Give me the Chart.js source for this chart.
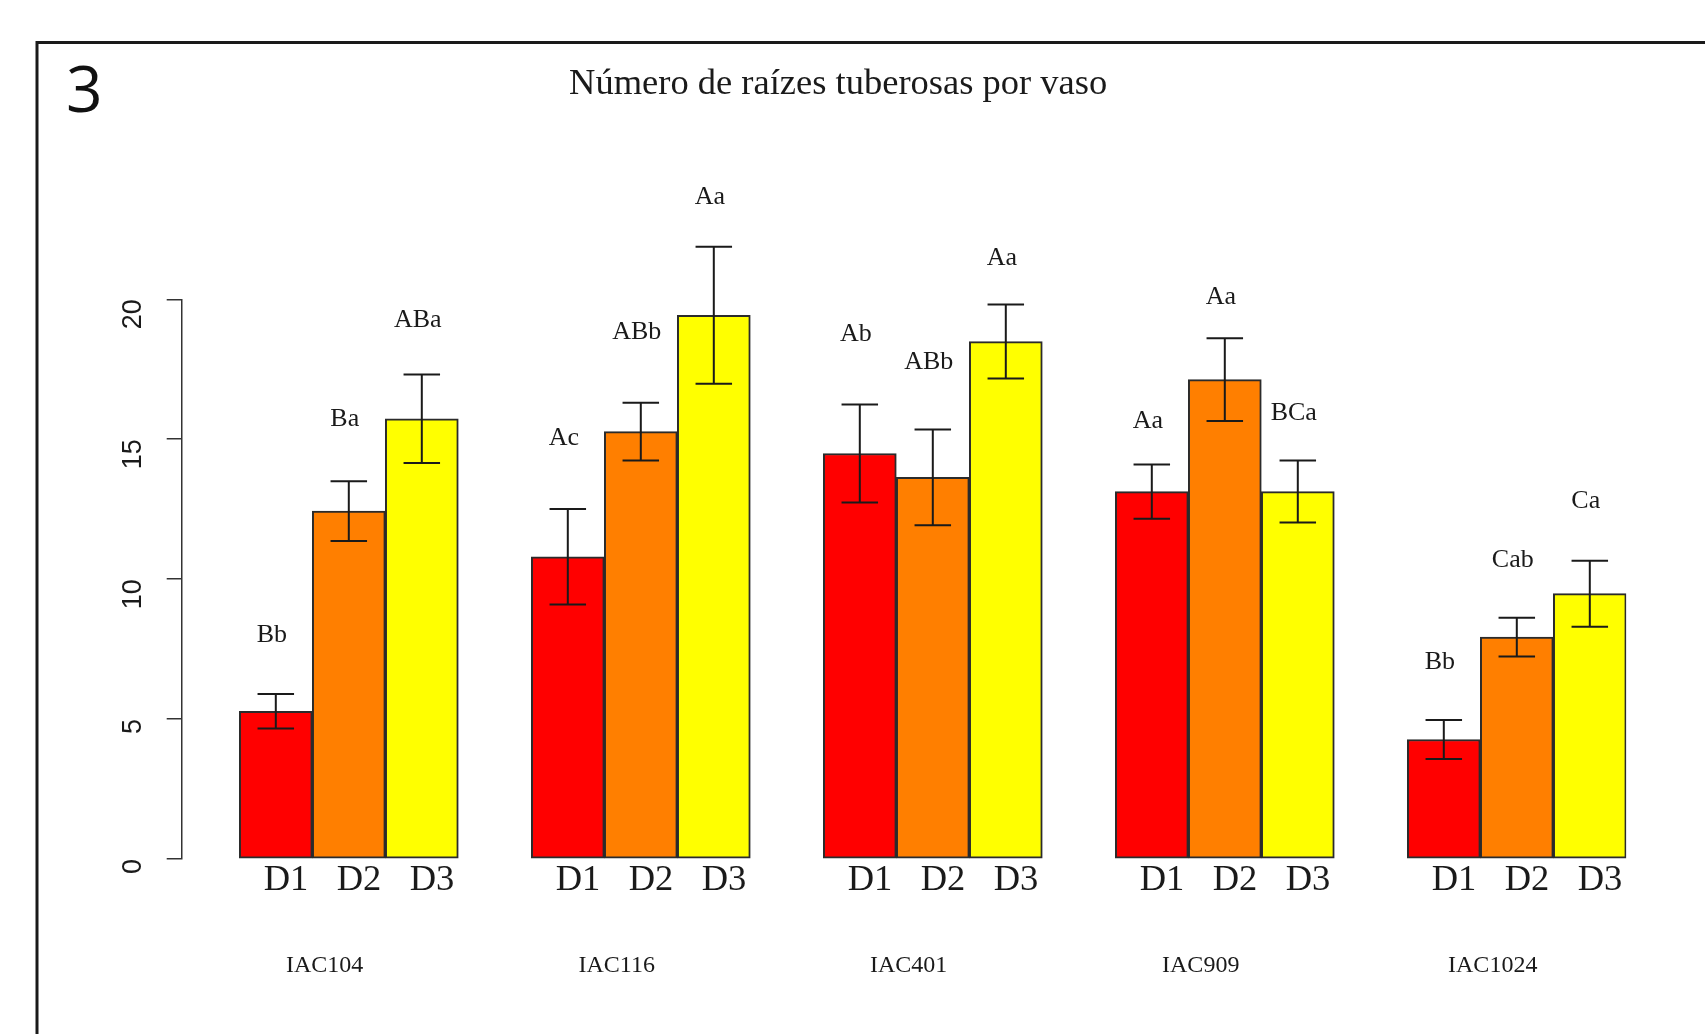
<!DOCTYPE html>
<html>
<head>
<meta charset="utf-8">
<title>Número de raízes tuberosas por vaso</title>
<script src="https://cdn.jsdelivr.net/npm/chart.js@4.4.0/dist/chart.umd.min.js"></script>
<style>
  html, body { margin: 0; padding: 0; background: #fff; }
  canvas { display: block; }
</style>
</head>
<body>
<canvas id="chart" width="1705" height="1034"></canvas>
<script>
// ---- data ----
const titleText = 'Número de raízes tuberosas por vaso';
const panelTag = '3';
const cultivars = ['IAC104', 'IAC116', 'IAC401', 'IAC909', 'IAC1024'];
const doses = ['D1', 'D2', 'D3'];

// mean number of tuberous roots per pot
const meanD1 = [5.28, 10.80, 14.49, 13.13, 4.27];
const meanD2 = [12.43, 15.27, 13.64, 17.13, 7.93];
const meanD3 = [15.73, 19.43, 18.49, 13.13, 9.48];

// error bar half-widths
const errD1 = [0.62, 1.71, 1.75, 0.97, 0.70];
const errD2 = [1.07, 1.03, 1.71, 1.48, 0.69];
const errD3 = [1.58, 2.45, 1.32, 1.11, 1.18];

// mean-comparison letters and the height (axis units) each is written at
const lettersD1 = ['Bb', 'Ac', 'Ab', 'Aa', 'Bb'];
const lettersD2 = ['Ba', 'ABb', 'ABb', 'Aa', 'Cab'];
const lettersD3 = ['ABa', 'Aa', 'Aa', 'BCa', 'Ca'];
const letterAtD1 = [8.00, 15.03, 18.76, 15.66, 7.03];
const letterAtD2 = [15.73, 18.84, 17.75, 20.09, 10.68];
const letterAtD3 = [19.27, 23.66, 21.48, 15.93, 12.78];

const yTicks = [0, 5, 10, 15, 20];

// ---- layout helpers ----
const SERIF = '"Liberation Serif", "Times New Roman", serif';
const SANS = '"Liberation Sans", Arial, sans-serif';
const INK = '#1a1a1a';

// x is measured in bar widths: each cultivar block is a one-bar gap followed by three bars
const barCentre = (g, d) => 4 * g + 1 + d + 0.5;
const groupCentre = g => 4 * g + 2.5;

const doseTickValues = [];
cultivars.forEach((_, g) => doses.forEach((_, d) => doseTickValues.push(barCentre(g, d) + 0.14)));
const groupTickValues = cultivars.map((_, g) => groupCentre(g) - 0.33);

const makeSeries = (d, means, errs, letters, letterAt) =>
  means.map((v, g) => ({ x: barCentre(g, d), y: v, err: errs[g], letter: letters[g], letterAt: letterAt[g] }));

const seriesD1 = makeSeries(0, meanD1, errD1, lettersD1, letterAtD1);
const seriesD2 = makeSeries(1, meanD2, errD2, lettersD2, letterAtD2);
const seriesD3 = makeSeries(2, meanD3, errD3, lettersD3, letterAtD3);

// panel frame, white background and panel number
const panelFrame = {
  id: 'panelFrame',
  beforeDraw(chart) {
    const ctx = chart.ctx;
    ctx.save();
    ctx.fillStyle = '#fff';
    ctx.fillRect(0, 0, chart.width, chart.height);
    ctx.strokeStyle = INK;
    ctx.lineWidth = 3;
    ctx.beginPath();
    ctx.moveTo(37, chart.height + 10);
    ctx.lineTo(37, 42.5);
    ctx.lineTo(chart.width + 10, 42.5);
    ctx.stroke();
    ctx.fillStyle = '#111';
    ctx.font = '64px "Open Sans", "Noto Sans", sans-serif';
    ctx.textAlign = 'left';
    ctx.textBaseline = 'alphabetic';
    ctx.fillText(panelTag, 66, 111.7);
    ctx.restore();
  }
};

// error bars and letters above each bar
const errorBars = {
  id: 'errorBars',
  afterDatasetsDraw(chart) {
    const ctx = chart.ctx;
    const y = chart.scales.y;
    ctx.save();
    chart.data.datasets.forEach((ds, di) => {
      const meta = chart.getDatasetMeta(di);
      meta.data.forEach((bar, i) => {
        const p = ds.data[i];
        const top = y.getPixelForValue(p.y + p.err);
        const bot = y.getPixelForValue(p.y - p.err);
        const cap = bar.width / 4;
        ctx.strokeStyle = INK;
        ctx.lineWidth = 2;
        ctx.beginPath();
        ctx.moveTo(bar.x, top); ctx.lineTo(bar.x, bot);
        ctx.moveTo(bar.x - cap, top); ctx.lineTo(bar.x + cap, top);
        ctx.moveTo(bar.x - cap, bot); ctx.lineTo(bar.x + cap, bot);
        ctx.stroke();
        ctx.fillStyle = INK;
        ctx.font = '26px ' + SERIF;
        ctx.textAlign = 'center';
        ctx.textBaseline = 'middle';
        ctx.fillText(p.letter, bar.x - 4, y.getPixelForValue(p.letterAt));
      });
    });
    ctx.restore();
  }
};

const barStyle = { borderColor: '#2b2b2b', borderWidth: 2, borderSkipped: false,
  grouped: false, barPercentage: 1, categoryPercentage: 1 };

new Chart(document.getElementById('chart'), {
  type: 'bar',
  data: {
    datasets: [
      { label: doses[0], data: seriesD1, backgroundColor: '#ff0000', ...barStyle },
      { label: doses[1], data: seriesD2, backgroundColor: '#ff7f00', ...barStyle },
      { label: doses[2], data: seriesD3, backgroundColor: '#ffff00', ...barStyle }
    ]
  },
  options: {
    responsive: false,
    animation: false,
    events: [],
    layout: { padding: { left: 50, right: 78.7, top: 0, bottom: 0 } },
    plugins: {
      legend: { display: false },
      tooltip: { enabled: false },
      title: {
        display: true,
        text: titleText,
        color: INK,
        font: { family: SERIF, size: 36.5, weight: 'normal', lineHeight: 1.2 },
        padding: { top: 62.6, bottom: 192.9 }
      }
    },
    scales: {
      x: {
        type: 'linear',
        min: 0.211,
        max: 20,
        offset: false,
        grid: { display: false },
        border: { display: false },
        afterBuildTicks: (s) => { s.ticks = doseTickValues.map((v) => ({ value: v })); },
        afterFit: (s) => { s.height = 92; },
        ticks: {
          autoSkip: false, maxRotation: 0, minRotation: 0, padding: -8,
          color: INK,
          font: { family: SERIF, size: 36.5 },
          callback: (v, i) => doses[i % doses.length]
        }
      },
      xg: {
        type: 'linear',
        position: 'bottom',
        min: 0.211,
        max: 20,
        offset: false,
        grid: { display: false },
        border: { display: false },
        afterBuildTicks: (s) => { s.ticks = groupTickValues.map((v) => ({ value: v })); },
        afterFit: (s) => { s.height = 83; },
        ticks: {
          autoSkip: false, maxRotation: 0, minRotation: 0, padding: -8,
          color: INK,
          font: { family: SERIF, size: 24 },
          callback: (v, i) => cultivars[i]
        }
      },
      y: {
        min: yTicks[0],
        max: yTicks[yTicks.length - 1],
        afterBuildTicks: (s) => { s.ticks = yTicks.map((v) => ({ value: v })); },
        afterFit: (s) => { s.width = 131.7; },
        ticks: {
          minRotation: 90, maxRotation: 90, padding: 33.4,
          color: INK,
          font: { family: SANS, size: 27 }
        },
        grid: { drawOnChartArea: false, drawTicks: true, tickLength: 15, color: '#333', lineWidth: 1.5 },
        border: { display: true, color: '#333', width: 1.5 }
      }
    }
  },
  plugins: [panelFrame, errorBars]
});
</script>
</body>
</html>
